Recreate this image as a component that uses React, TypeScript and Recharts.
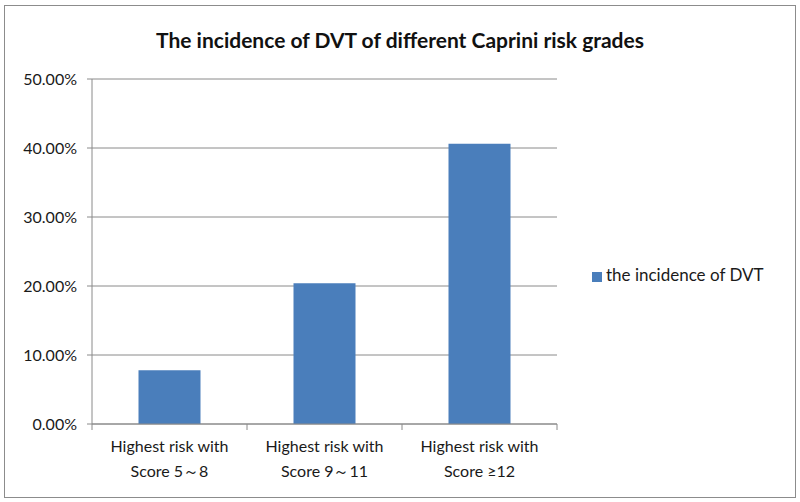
import { BarChart, Bar, XAxis, YAxis, CartesianGrid, Legend } from 'recharts'

const categories = [
  'Highest risk with\nScore 5～8',
  'Highest risk with\nScore 9～11',
  'Highest risk with\nScore ≥12',
]
const incidence = [0.078, 0.204, 0.406]
const yTicks = [0, 0.1, 0.2, 0.3, 0.4, 0.5]

const data = categories.map((name, i) => ({ name, incidence: incidence[i] }))

const font = 'Lato, "Open Sans", sans-serif'
const axisColor = '#8a8a8a'

// Excel style: tick marks sit on the category boundaries, not the centres
const CategoryTick = (props: any) => {
  const { x, y, payload, index } = props
  const half = payload && payload.offset ? payload.offset : 0
  const lines = String(payload.value).split('\n')
  return (
    <g>
      {half > 0 && index === 0 && (
        <line x1={x - half} x2={x - half} y1={y - 8} y2={y - 2} stroke={axisColor} />
      )}
      {half > 0 && (
        <line x1={x + half} x2={x + half} y1={y - 8} y2={y - 2} stroke={axisColor} />
      )}
      <text x={x} y={y} textAnchor="middle" fill="#1a1a1a" fontSize={16} fontFamily={font}>
        {lines.map((l, i) => (
          <tspan key={i} x={x} dy={i === 0 ? 20 : 25}>
            {l}
          </tspan>
        ))}
      </text>
    </g>
  )
}

const Chart = (): JSX.Element => {
  return (
    <div style={{ position: 'absolute', left: 0, top: 0, width: 800, height: 502, background: '#fff' }}>
      <div
        style={{
          position: 'absolute',
          left: 4,
          top: 5,
          width: 790,
          height: 491,
          border: '1px solid #8c8c8c',
        }}
      />
      <div
        style={{
          position: 'absolute',
          left: 0,
          width: 800,
          top: 27,
          textAlign: 'center',
          fontFamily: font,
          fontWeight: 'bold',
          fontSize: 21,
          color: '#111',
        }}
      >
        The incidence of DVT of different Caprini risk grades
      </div>
      <BarChart
        width={800}
        height={502}
        data={data}
        barCategoryGap="30%"
        margin={{ top: 79, right: 43, left: 0, bottom: 0 }}
      >
        <CartesianGrid horizontal vertical={false} stroke={axisColor} />
        <XAxis
          dataKey="name"
          interval={0}
          tick={<CategoryTick />}
          tickLine={false}
          tickSize={6}
          tickMargin={2}
          axisLine={{ stroke: axisColor }}
          height={78}
        />
        <YAxis
          domain={[0, 0.5]}
          ticks={yTicks}
          width={92}
          tickSize={5}
          tickMargin={10}
          tickLine={{ stroke: axisColor }}
          axisLine={{ stroke: axisColor }}
          tickFormatter={(v: number) => (v * 100).toFixed(2) + '%'}
          tick={{ fill: '#1a1a1a', fontSize: 16, fontFamily: font }}
        />
        <Legend
          layout="vertical"
          align="right"
          verticalAlign="top"
          iconType="square"
          iconSize={10}
          wrapperStyle={{ left: 592, top: 264, width: 200, fontFamily: font, fontSize: 17 }}
          formatter={(value: string) => <span style={{ color: '#1a1a1a' }}>{value}</span>}
        />
        <Bar
          dataKey="incidence"
          name="the incidence of DVT"
          fill="#4a7ebb"
          isAnimationActive={false}
        />
      </BarChart>
    </div>
  )
}

export default Chart
